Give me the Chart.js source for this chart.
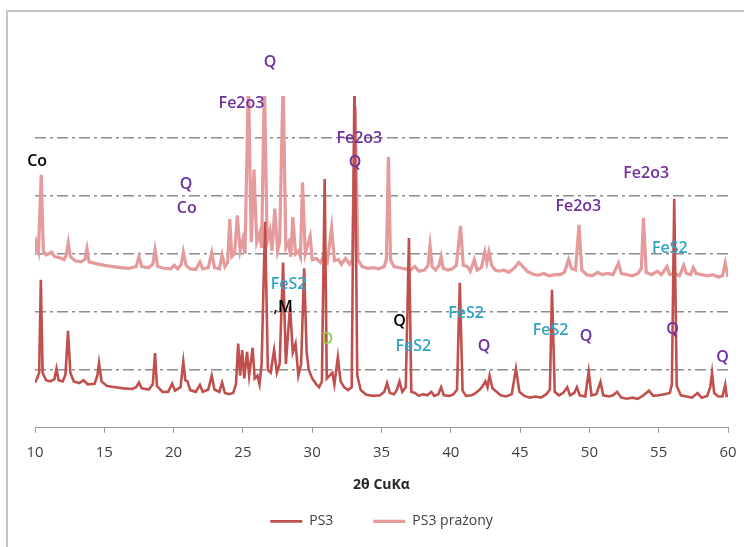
<!DOCTYPE html>
<html>
<head>
<meta charset="utf-8">
<script src="https://cdn.jsdelivr.net/npm/chart.js@4.4.1/dist/chart.umd.min.js"></script>
<style>
  html, body { margin: 0; padding: 0; background: #fff; overflow: hidden; }
  #frame {
    position: absolute; left: 6px; top: 10px; width: 800px; height: 600px;
    border-left: 2px solid #c4c4c4; border-top: 2px solid #c4c4c4;
  }
  #xrd { position: absolute; left: 0; top: 0; }
</style>
</head>
<body>
<div id="frame"></div>
<canvas id="xrd" width="744" height="547"></canvas>
<script>
// --- dane (2θ, intensywność w jednostkach siatki) ---
const ps3Angle = [
  10.0, 10.15, 10.3, 10.42, 10.55, 10.8, 11.1, 11.4, 11.55, 11.7, 12.0, 12.2, 12.38, 12.55, 12.8,
  13.2, 13.5, 13.8, 14.3, 14.5, 14.62, 14.8, 15.2, 15.8, 16.4, 17.0, 17.3, 17.5, 17.7, 18.2,
  18.5, 18.66, 18.8, 19.2, 19.6, 19.9, 20.1, 20.5, 20.7, 20.85, 21.0, 21.2, 21.6, 21.9, 22.1,
  22.5, 22.75, 22.95, 23.3, 23.5, 23.7, 24.0, 24.3, 24.5, 24.66, 24.8, 24.95, 25.1, 25.3, 25.45,
  25.7, 25.85, 26.05, 26.2, 26.35, 26.6, 26.8, 27.0, 27.25, 27.45, 27.65, 27.9, 28.1, 28.4, 28.6,
  28.8, 29.0, 29.2, 29.42, 29.6, 29.75, 30.0, 30.3, 30.5, 30.7, 30.9, 31.05, 31.25, 31.45, 31.6,
  31.85, 32.05, 32.3, 32.6, 32.85, 33.05, 33.25, 33.5, 33.9, 34.4, 34.9, 35.2, 35.4, 35.6, 35.9,
  36.1, 36.3, 36.5, 36.75, 36.98, 37.15, 37.4, 37.7, 38.0, 38.3, 38.6, 38.8, 39.1, 39.3, 39.5,
  39.9, 40.2, 40.45, 40.65, 40.85, 41.1, 41.5, 41.8, 42.1, 42.3, 42.5, 42.65, 42.8, 43.0, 43.3,
  43.6, 44.0, 44.4, 44.7, 44.95, 45.3, 45.7, 46.1, 46.5, 46.9, 47.15, 47.3, 47.5, 47.8, 48.1,
  48.4, 48.6, 48.9, 49.1, 49.3, 49.7, 49.95, 50.15, 50.5, 50.8, 51.0, 51.4, 51.7, 52.0, 52.3,
  52.7, 53.1, 53.5, 53.9, 54.3, 54.6, 55.0, 55.4, 55.8, 55.95, 56.12, 56.3, 56.6, 57.0, 57.4,
  57.8, 58.1, 58.5, 58.72, 58.85, 59.0, 59.3, 59.6, 59.8, 59.9, 60.0
];
const ps3Counts = [
  0.78, 0.85, 0.95, 2.55, 0.95, 0.82, 0.80, 0.84, 1.02, 0.82, 0.80, 0.92, 1.67, 0.95, 0.80,
  0.77, 0.82, 0.75, 0.76, 0.90, 1.12, 0.80, 0.72, 0.70, 0.68, 0.67, 0.70, 0.78, 0.68, 0.66,
  0.75, 1.29, 0.72, 0.62, 0.62, 0.76, 0.64, 0.70, 1.14, 0.82, 0.80, 0.65, 0.62, 0.74, 0.62,
  0.66, 0.90, 0.66, 0.62, 0.78, 0.60, 0.58, 0.60, 0.75, 1.45, 0.90, 1.34, 0.85, 1.31, 0.90,
  1.38, 0.85, 0.90, 0.75, 1.10, 3.55, 1.00, 0.95, 1.34, 0.95, 1.10, 2.85, 1.10, 2.10, 1.30,
  1.45, 0.90, 1.10, 2.75, 1.30, 1.00, 0.85, 0.75, 0.70, 0.80, 4.29, 0.85, 0.90, 0.95, 0.75,
  1.22, 0.80, 0.70, 0.65, 0.70, 6.00, 0.90, 0.65, 0.57, 0.55, 0.56, 0.62, 0.77, 0.60, 0.58,
  0.65, 0.80, 0.62, 0.70, 3.27, 0.62, 0.60, 0.55, 0.58, 0.56, 0.62, 0.55, 0.58, 0.70, 0.56,
  0.55, 0.58, 0.66, 2.50, 0.64, 0.55, 0.56, 0.60, 0.66, 0.72, 0.80, 0.70, 0.90, 0.68, 0.62,
  0.56, 0.54, 0.58, 1.02, 0.62, 0.55, 0.52, 0.54, 0.52, 0.58, 0.66, 2.38, 0.62, 0.56, 0.60,
  0.70, 0.56, 0.60, 0.70, 0.56, 0.54, 0.97, 0.56, 0.58, 0.79, 0.56, 0.54, 0.56, 0.62, 0.52,
  0.50, 0.52, 0.50, 0.56, 0.64, 0.55, 0.56, 0.58, 0.60, 0.75, 3.95, 0.72, 0.56, 0.54, 0.52,
  0.60, 0.52, 0.55, 0.70, 0.95, 0.60, 0.54, 0.54, 0.74, 0.55, 0.55
];

const prazAngle = [
  10.0, 10.1, 10.25, 10.45, 10.6, 10.8, 11.2, 11.4, 11.8, 12.1, 12.25, 12.4, 12.55, 12.9, 13.3,
  13.6, 13.75, 13.9, 14.4, 15.0, 15.6, 16.2, 16.8, 17.3, 17.5, 17.7, 18.2, 18.5, 18.66, 18.85,
  19.3, 19.8, 20.05, 20.3, 20.55, 20.7, 20.9, 21.2, 21.6, 21.9, 22.1, 22.5, 22.75, 22.95, 23.3,
  23.5, 23.7, 23.9, 24.05, 24.2, 24.4, 24.6, 24.8, 25.0, 25.15, 25.4, 25.6, 25.8, 26.0, 26.2,
  26.35, 26.55, 26.75, 26.95, 27.1, 27.3, 27.5, 27.65, 27.9, 28.1, 28.3, 28.45, 28.6, 28.8, 29.0,
  29.15, 29.3, 29.5, 29.85, 30.0, 30.3, 30.6, 30.9, 31.1, 31.4, 31.6, 31.9, 32.1, 32.4, 32.7,
  32.9, 33.1, 33.3, 33.6, 34.0, 34.4, 34.8, 35.2, 35.35, 35.5, 35.65, 35.9, 36.3, 36.7, 37.1,
  37.4, 37.7, 38.1, 38.35, 38.5, 38.65, 38.9, 39.15, 39.3, 39.45, 39.8, 40.1, 40.4, 40.7, 40.9,
  41.2, 41.4, 41.7, 41.9, 42.2, 42.45, 42.6, 42.75, 42.95, 43.2, 43.5, 43.8, 44.2, 44.6, 44.9,
  45.2, 45.5, 45.9, 46.3, 46.7, 47.1, 47.5, 47.9, 48.2, 48.5, 48.7, 49.0, 49.25, 49.45, 49.8,
  50.2, 50.6, 50.9, 51.3, 51.7, 52.1, 52.3, 52.7, 53.1, 53.5, 53.75, 53.9, 54.1, 54.5, 54.9,
  55.2, 55.6, 55.8, 56.2, 56.5, 56.8, 57.0, 57.3, 57.5, 57.7, 58.1, 58.5, 58.9, 59.3, 59.6,
  59.8, 60.0
];
const prazCounts = [
  3.00, 3.19, 3.05, 4.36, 3.05, 2.98, 3.03, 2.95, 2.93, 2.90, 2.97, 3.19, 2.95, 2.88, 2.86,
  2.90, 3.09, 2.86, 2.83, 2.80, 2.78, 2.76, 2.75, 2.78, 2.95, 2.78, 2.76, 2.82, 3.07, 2.78,
  2.75, 2.74, 2.80, 2.74, 2.82, 3.03, 2.80, 2.74, 2.73, 2.86, 2.74, 2.76, 3.02, 2.76, 2.74,
  2.98, 2.78, 2.85, 3.60, 2.95, 3.00, 3.66, 3.05, 3.25, 3.00, 6.00, 3.20, 4.45, 3.20, 3.35,
  3.10, 6.00, 3.20, 3.40, 3.05, 3.78, 3.05, 3.20, 6.00, 3.10, 3.20, 2.95, 3.63, 3.00, 3.05,
  2.95, 4.23, 3.00, 3.30, 2.90, 2.92, 2.85, 3.00, 2.88, 3.45, 2.88, 2.90, 2.82, 2.92, 2.82,
  2.90, 5.53, 2.90, 2.78, 2.75, 2.76, 2.74, 2.78, 2.90, 4.67, 2.90, 2.78, 2.76, 2.74, 2.72,
  2.78, 2.70, 2.72, 2.80, 3.14, 2.78, 2.72, 2.80, 2.95, 2.75, 2.72, 2.74, 2.80, 3.48, 2.80,
  2.78, 2.70, 2.90, 2.72, 2.76, 3.03, 2.85, 3.03, 2.80, 2.72, 2.70, 2.72, 2.68, 2.76, 2.85,
  2.78, 2.70, 2.65, 2.63, 2.66, 2.62, 2.64, 2.64, 2.68, 2.90, 2.75, 2.72, 3.50, 2.72, 2.64,
  2.62, 2.68, 2.64, 2.66, 2.64, 2.84, 2.66, 2.64, 2.62, 2.66, 2.75, 3.62, 2.68, 2.64, 2.70,
  2.64, 2.78, 2.64, 2.66, 2.62, 2.80, 2.66, 2.64, 2.76, 2.66, 2.64, 2.62, 2.64, 2.60, 2.62,
  2.84, 2.60
];

const xTicks = [10, 15, 20, 25, 30, 35, 40, 45, 50, 55, 60];

// --- opisy faz ---
const phaseText  = ['Co', 'Q', 'Fe2o3', 'Fe2o3', 'Q', 'Q', 'Co', 'Fe2o3', 'Fe2o3', 'FeS2', 'FeS2', ',M', 'D', 'Q', 'FeS2', 'FeS2', 'Q', 'FeS2', 'Q', 'Q', 'Q'];
const phaseAngle = [10.15, 26.95, 24.9, 33.4, 33.1, 20.9, 20.95, 54.1, 49.2, 55.8, 28.3, 27.9, 31.1, 36.3, 37.3, 41.1, 42.4, 47.2, 49.75, 56.0, 59.6];
const phaseLevel = [4.60, 6.30, 5.60, 4.98, 4.57, 4.19, 3.79, 4.38, 3.81, 3.10, 2.48, 2.07, 1.52, 1.83, 1.40, 1.98, 1.41, 1.67, 1.57, 1.70, 1.22];
const phaseColor = ['#000000', '#7030a0', '#7030a0', '#7030a0', '#7030a0', '#7030a0', '#7030a0', '#7030a0', '#7030a0', '#31a3c4', '#31a3c4', '#000000', '#92d050', '#000000', '#31a3c4', '#31a3c4', '#7030a0', '#31a3c4', '#7030a0', '#7030a0', '#7030a0'];

const FONT = '"Open Sans", "Liberation Sans", sans-serif';

function toPoints(xs, ys) {
  return xs.map((x, i) => ({ x: x, y: ys[i] }));
}

// rysowanie opisów faz przez skale wykresu
const phaseLabels = {
  id: 'phaseLabels',
  afterDatasetsDraw(chart) {
    const { ctx, scales } = chart;
    ctx.save();
    ctx.font = '600 16px ' + FONT;
    ctx.textAlign = 'center';
    ctx.textBaseline = 'middle';
    phaseText.forEach((t, i) => {
      ctx.fillStyle = phaseColor[i];
      ctx.fillText(t, scales.x.getPixelForValue(phaseAngle[i]), scales.y.getPixelForValue(phaseLevel[i]));
    });
    ctx.restore();
  }
};

new Chart(document.getElementById('xrd'), {
  type: 'line',
  data: {
    datasets: [
      {
        label: 'PS3',
        data: toPoints(ps3Angle, ps3Counts),
        borderColor: '#c0504d',
        backgroundColor: '#c0504d',
        borderWidth: 2.6,
        pointRadius: 0,
        tension: 0
      },
      {
        label: 'PS3 prażony',
        data: toPoints(prazAngle, prazCounts),
        borderColor: '#e59a9b',
        backgroundColor: '#e59a9b',
        borderWidth: 3.2,
        pointRadius: 0,
        tension: 0
      }
    ]
  },
  options: {
    responsive: false,
    animation: false,
    devicePixelRatio: 1,
    layout: { padding: { left: 35, right: 16, top: 96, bottom: 8.6 } },
    plugins: {
      legend: {
        position: 'bottom',
        labels: {
          usePointStyle: true,
          pointStyle: 'line',
          pointStyleWidth: 32,
          padding: 40,
          color: '#404040',
          font: { family: FONT, size: 14 }
        }
      },
      tooltip: { enabled: false }
    },
    scales: {
      x: {
        type: 'linear',
        min: 10,
        max: 60,
        afterBuildTicks: s => { s.ticks = xTicks.map(v => ({ value: v })); },
        afterFit: s => { s.paddingLeft = 0; s.paddingRight = 0; },
        ticks: { color: '#404040', padding: 11, maxRotation: 0, font: { family: FONT, size: 15 } },
        grid: { drawOnChartArea: false, drawTicks: true, tickLength: 5, color: '#9a9a9a' },
        border: { color: '#9a9a9a', width: 1 },
        title: {
          display: true,
          text: '2θ CuKα',
          color: '#262626',
          padding: { top: 3.6, bottom: -18.8 },
          font: { family: FONT, size: 14, weight: 'bold' }
        }
      },
      y: {
        min: 0,
        max: 5.72,
        ticks: { display: false, stepSize: 1 },
        border: { display: false, dash: [11, 4, 3, 4] },
        grid: {
          drawTicks: false,
          lineWidth: 1.5,
          color: c => (c.tick && c.tick.value >= 1 && c.tick.value <= 5 && Number.isInteger(c.tick.value)) ? '#8c8c8c' : 'rgba(0,0,0,0)'
        },
        afterFit: s => { s.width = 0; }
      }
    }
  },
  plugins: [phaseLabels]
});
</script>
</body>
</html>
